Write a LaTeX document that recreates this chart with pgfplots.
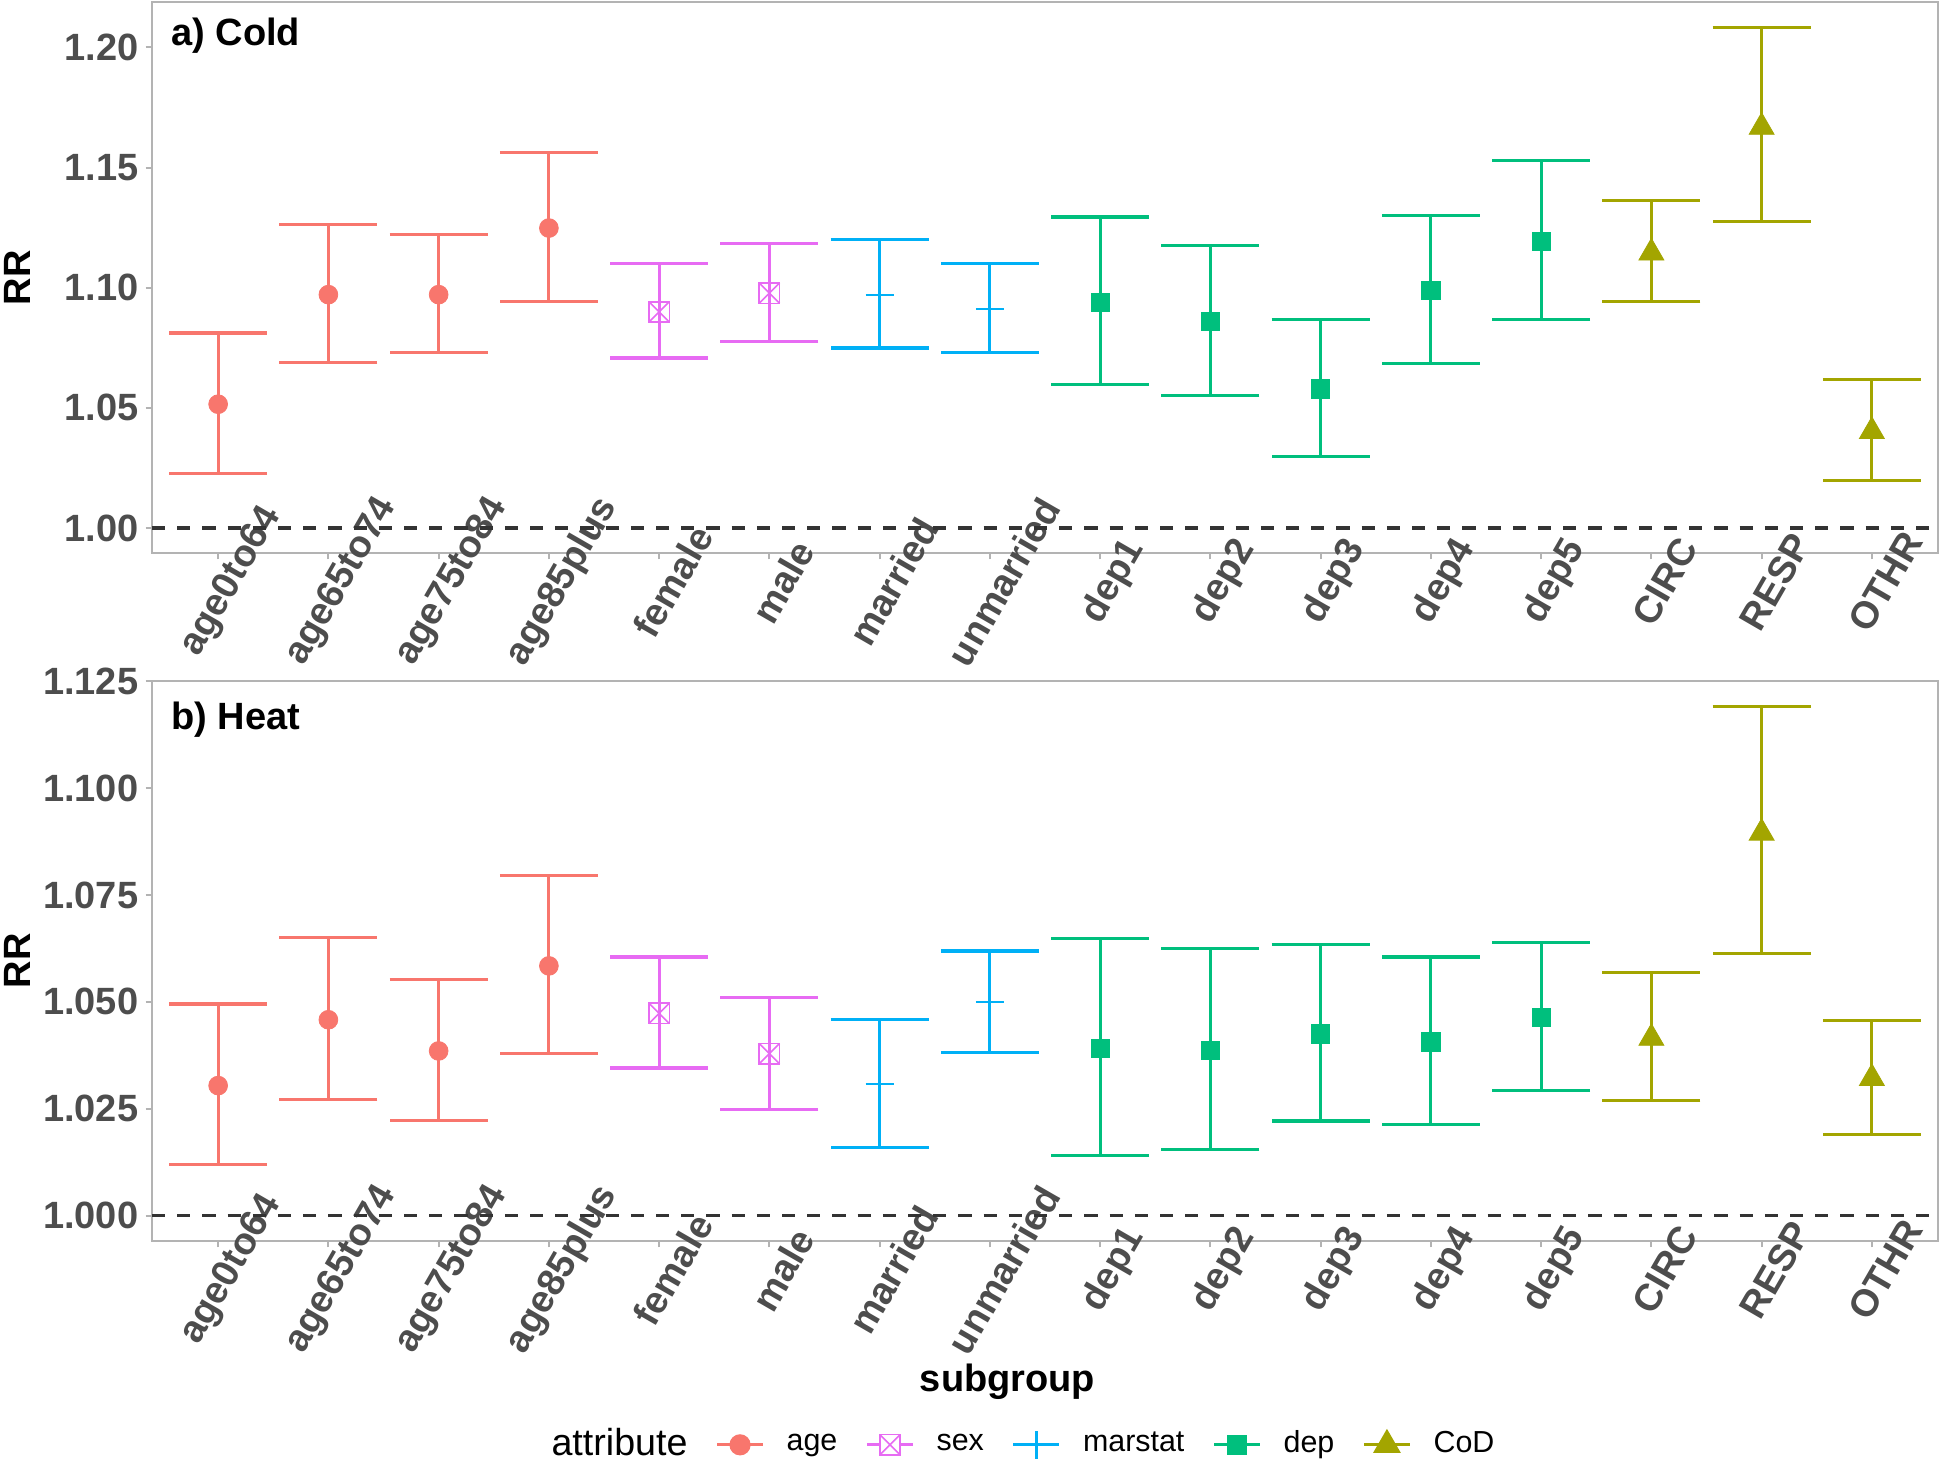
\documentclass[border=0pt]{standalone}
\usepackage{pgfplots}
\pgfplotsset{compat=1.18}
\usepackage{pgfplotstable}
\usepackage{fontspec}
\setmainfont{Liberation Sans}
\definecolor{cage}{HTML}{F8766D}
\definecolor{csex}{HTML}{E76BF3}
\definecolor{cmar}{HTML}{00B0F6}
\definecolor{cdep}{HTML}{00BF7D}
\definecolor{ccod}{HTML}{A3A500}
\definecolor{tickgray}{HTML}{4D4D4D}
\definecolor{framegray}{HTML}{B3B3B3}
\definecolor{dashcol}{HTML}{333333}

% ---- Cold ----
\pgfplotstableread{
x y lo hi
0 1.0515 1.0228 1.0811
1 1.0971 1.0689 1.1262
2 1.0971 1.0729 1.1221
3 1.1248 1.0943 1.1564
}\coldage
\pgfplotstableread{
x y lo hi
4 1.0899 1.0707 1.1099
5 1.0977 1.0776 1.1183
}\coldsex
\pgfplotstableread{
x y lo hi
6 1.0969 1.0749 1.1199
7 1.0912 1.0729 1.1099
}\coldmar
\pgfplotstableread{
x y lo hi
8 1.0939 1.0596 1.1294
9 1.0860 1.0551 1.1176
10 1.0578 1.0296 1.0867
11 1.0989 1.0686 1.1300
12 1.1192 1.0867 1.1528
}\colddep
\pgfplotstableread{
x y lo hi
13 1.1145 1.0941 1.1363
14 1.1668 1.1276 1.2084
15 1.0402 1.0196 1.0619
}\coldcod
% ---- Heat ----
\pgfplotstableread{
x y lo hi
0 1.0304 1.0119 1.0495
1 1.0458 1.0271 1.0651
2 1.0385 1.0223 1.0553
3 1.0584 1.0379 1.0796
}\heatage
\pgfplotstableread{
x y lo hi
4 1.0473 1.0345 1.0605
5 1.0379 1.0248 1.0510
}\heatsex
\pgfplotstableread{
x y lo hi
6 1.0307 1.0160 1.0458
7 1.0500 1.0382 1.0619
}\heatmar
\pgfplotstableread{
x y lo hi
8 1.0391 1.0141 1.0649
9 1.0386 1.0154 1.0624
10 1.0425 1.0221 1.0634
11 1.0406 1.0213 1.0605
12 1.0463 1.0293 1.0638
}\heatdep
\pgfplotstableread{
x y lo hi
13 1.0415 1.0269 1.0568
14 1.0895 1.0613 1.1191
15 1.0321 1.0190 1.0456
}\heatcod

\newcommand{\bfs}{\fontsize{9.5pt}{11pt}\selectfont\bfseries}

\pgfplotsset{
  panel/.style={
    scale only axis, width=446.5pt,
    xmin=-0.6, xmax=15.6,
    xtick={0,1,2,3,4,5,6,7,8,9,10,11,12,13,14,15},
    xticklabels={age0to64,age65to74,age75to84,age85plus,female,male,married,unmarried,dep1,dep2,dep3,dep4,dep5,CIRC,RESP,OTHR},
    axis line style={framegray, line width=0.5pt},
    tick style={framegray, line width=0.5pt},
    tick align=outside, major tick length=1.6pt,
    xtick pos=bottom, ytick pos=left,
    x tick label style={font=\bfs, text=tickgray, anchor=center, xshift=3.4pt, yshift=-5.6pt, rotate=60},
    y tick label style={font=\bfs, text=tickgray, xshift=1.7pt},
    /pgf/number format/assume math mode=true,
    scaled y ticks=false,
    ylabel={RR},
    every axis y label/.style={at={(rel axis cs:0,0.5)}, anchor=center, xshift=-33.75pt, rotate=90, font=\bfs},
    clip=false,
  },
  ebar/.style={only marks, forget plot, color=#1,
    error bars/y dir=both, error bars/y explicit,
    error bars/error bar style={line width=0.8pt, color=#1, solid},
    error bars/error mark options={rotate=90, color=#1, line width=0.8pt, mark size=12.25pt}},
  table/errtab/.style={x=x, y=y, y error plus expr=\thisrow{hi}-\thisrow{y}, y error minus expr=\thisrow{y}-\thisrow{lo}},
}

\begin{document}
\begin{tikzpicture}
\useasboundingbox (0,0) rectangle (486pt,365.75pt);

% ================= a) Cold =================
\begin{axis}[panel, at={(38pt,227.5pt)}, anchor=south west, height=137.7pt,
  ymin=0.9896, ymax=1.2188,
  ytick={1.00,1.05,1.10,1.15,1.20},
  yticklabel style={/pgf/number format/.cd, fixed, fixed zerofill, precision=2},
]
\addplot[dashcol, line width=0.85pt, dash pattern=on 3.3pt off 3pt, forget plot] coordinates {(-0.6,1) (15.6,1)};
\addplot[ebar=cage, mark=*, mark size=2.35pt, mark options={line width=0.2pt}] table[errtab] {\coldage};
\addplot[ebar=csex, mark=square, mark size=2.55pt, mark options={line width=0.4pt}] table[errtab] {\coldsex};
\addplot[only marks, forget plot, csex, mark=x, mark size=3.6pt, mark options={line width=0.4pt}] table[x=x,y=y] {\coldsex};
\addplot[ebar=cmar, mark=+, mark size=3.5pt, mark options={line width=0.55pt}] table[errtab] {\coldmar};
\addplot[ebar=cdep, mark=square*, mark size=2.3pt, mark options={line width=0.2pt}] table[errtab] {\colddep};
\addplot[ebar=ccod, mark=triangle*, mark size=3.6pt, mark options={line width=0.2pt}] table[errtab] {\coldcod};
\node[anchor=west, inner sep=0pt, font=\bfs, text=black] at (rel axis cs:0.0104,0.939) {a) Cold};
\end{axis}

% ================= b) Heat =================
\begin{axis}[panel, at={(38pt,55.5pt)}, anchor=south west, height=140pt,
  ymin=0.99404, ymax=1.12506,
  ytick={1.000,1.025,1.050,1.075,1.100,1.125},
  yticklabel style={/pgf/number format/.cd, fixed, fixed zerofill, precision=3},
  xlabel={subgroup},
  every axis x label/.style={at={(rel axis cs:0.479,0)}, anchor=center, yshift=-35.2pt, font=\bfs},
  legend columns=-1,
  legend style={at={(0.4815,-0.364)}, anchor=center, draw=none, fill=none,
    inner sep=0pt, outer sep=0pt,
    font=\fontsize{7.6pt}{9pt}\selectfont,
    nodes={inner sep=0pt},
    /tikz/every odd column/.append style={column sep=5.5pt},
    /tikz/every even column/.append style={column sep=7pt}},
]
\addplot[dashcol, line width=0.85pt, dash pattern=on 3.3pt off 3pt, forget plot] coordinates {(-0.6,1) (15.6,1)};
\addplot[ebar=cage, mark=*, mark size=2.35pt, mark options={line width=0.2pt}] table[errtab] {\heatage};
\addplot[ebar=csex, mark=square, mark size=2.55pt, mark options={line width=0.4pt}] table[errtab] {\heatsex};
\addplot[only marks, forget plot, csex, mark=x, mark size=3.6pt, mark options={line width=0.4pt}] table[x=x,y=y] {\heatsex};
\addplot[ebar=cmar, mark=+, mark size=3.5pt, mark options={line width=0.55pt}] table[errtab] {\heatmar};
\addplot[ebar=cdep, mark=square*, mark size=2.3pt, mark options={line width=0.2pt}] table[errtab] {\heatdep};
\addplot[ebar=ccod, mark=triangle*, mark size=3.6pt, mark options={line width=0.2pt}] table[errtab] {\heatcod};
\node[anchor=west, inner sep=0pt, font=\bfs, text=black] at (rel axis cs:0.0104,0.931) {b) Heat};

\addlegendimage{empty legend}
\addlegendentry{\fontsize{9.4pt}{11pt}\selectfont attribute}
\addlegendimage{legend image code/.code={
  \draw[cage, line width=0.8pt] (0pt,0pt) -- (11.5pt,0pt);
  \fill[cage] (5.75pt,0pt) circle (2.45pt);}}
\addlegendentry{age}
\addlegendimage{legend image code/.code={
  \draw[csex, line width=0.8pt] (0pt,0pt) -- (11.5pt,0pt);
  \draw[csex, line width=0.4pt, fill=white] (3.2pt,-2.55pt) rectangle (8.3pt,2.55pt);
  \draw[csex, line width=0.4pt] (3.2pt,-2.55pt) -- (8.3pt,2.55pt) (3.2pt,2.55pt) -- (8.3pt,-2.55pt);}}
\addlegendentry{sex}
\addlegendimage{legend image code/.code={
  \draw[cmar, line width=0.8pt] (0pt,0pt) -- (11.5pt,0pt);
  \draw[cmar, line width=0.55pt] (5.75pt,-3.5pt) -- (5.75pt,3.5pt);}}
\addlegendentry{marstat}
\addlegendimage{legend image code/.code={
  \draw[cdep, line width=0.8pt] (0pt,0pt) -- (11.5pt,0pt);
  \fill[cdep] (3.45pt,-2.3pt) rectangle (8.05pt,2.3pt);}}
\addlegendentry{dep}
\addlegendimage{legend image code/.code={
  \draw[ccod, line width=0.8pt] (0pt,0pt) -- (11.5pt,0pt);
  \fill[ccod] (5.75pt,3.6pt) -- (2.63pt,-1.8pt) -- (8.87pt,-1.8pt) -- cycle;}}
\addlegendentry{CoD}
\end{axis}
\end{tikzpicture}
\end{document}
